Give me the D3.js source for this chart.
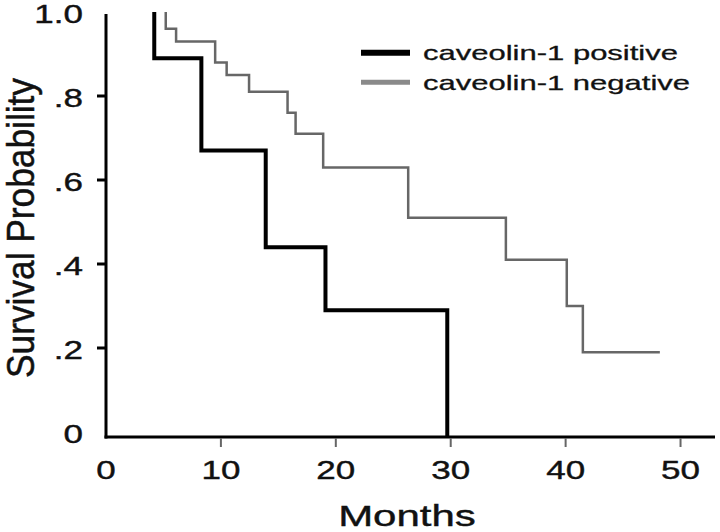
<!DOCTYPE html>
<html>
<head>
<meta charset="utf-8">
<script src="https://cdn.jsdelivr.net/npm/d3@7"></script>
<style>
  html, body { margin: 0; padding: 0; background: #fff; }
  svg { display: block; }
  text { font-family: "Liberation Sans", Arial, Helvetica, sans-serif; fill: #111; }
</style>
</head>
<body>
<svg id="chart" width="720" height="532"></svg>
<script>
// ---- data ----
const seriesNames = ["caveolin-1 positive", "caveolin-1 negative"];
const posTime = [4.2, 4.2, 8.3, 13.9, 19.1, 29.7];
const posSurv = [1.0, 0.89, 0.67, 0.44, 0.29, 0.0];
const negTime = [5.2, 5.2, 6.1, 9.5, 10.5, 12.45, 15.8, 16.5, 18.9, 26.3, 34.8, 40.1, 41.5, 48.2];
const negSurv = [1.0, 0.96, 0.93, 0.88, 0.85, 0.81, 0.76, 0.71, 0.63, 0.51, 0.41, 0.30, 0.19, 0.19];
const xTicks = [0, 10, 20, 30, 40, 50];
const yTicks = [0, 0.2, 0.4, 0.6, 0.8, 1.0];
const yTickLabels = ["0", ".2", ".4", ".6", ".8", "1.0"];
const xTitle = "Months";
const yTitle = "Survival Probability";

// ---- layout ----
const svg = d3.select("#chart");
const x = d3.scaleLinear().domain([0, 53]).range([106, 715]);
const y = d3.scaleLinear().domain([0, 1]).range([432, 12]);
const axisY = 437;          // x-axis line sits a little below y(0)
const SX = 1.4;             // the reference's text is horizontally stretched

// axis lines
svg.append("line").attr("x1", x(0)).attr("x2", x(0)).attr("y1", 14).attr("y2", axisY + 1.5)
  .attr("stroke", "#000").attr("stroke-width", 3);
svg.append("line").attr("x1", x(0) - 1.5).attr("x2", x.range()[1]).attr("y1", axisY).attr("y2", axisY)
  .attr("stroke", "#000").attr("stroke-width", 3);

// y ticks (not at 0 or 1.0)
svg.append("g").selectAll("line").data(yTicks.filter(v => v > 0 && v < 1)).join("line")
  .attr("x1", x(0) - 9).attr("x2", x(0)).attr("y1", d => y(d)).attr("y2", d => y(d))
  .attr("stroke", "#000").attr("stroke-width", 3);

// x ticks (not at 0)
svg.append("g").selectAll("line").data(xTicks.filter(v => v > 0)).join("line")
  .attr("x1", d => x(d)).attr("x2", d => x(d)).attr("y1", axisY + 1).attr("y2", axisY + 10)
  .attr("stroke", "#666").attr("stroke-width", 2);

// y tick labels
svg.append("g").selectAll("text").data(yTicks).join("text")
  .attr("transform", d => `translate(83,${y(d) + 2}) scale(${SX},1)`)
  .attr("text-anchor", "end").attr("dy", "0.36em")
  .attr("font-size", 25).attr("stroke", "#111").attr("stroke-width", 0.4)
  .text((d, i) => yTickLabels[i]);

// x tick labels
svg.append("g").selectAll("text").data(xTicks).join("text")
  .attr("transform", d => `translate(${x(d)},479) scale(${SX},1)`)
  .attr("text-anchor", "middle")
  .attr("font-size", 25).attr("stroke", "#111").attr("stroke-width", 0.4)
  .text(d => d);

// axis titles
svg.append("text")
  .attr("transform", `translate(407,526) scale(${SX},1)`)
  .attr("text-anchor", "middle").attr("font-size", 30).attr("stroke", "#111").attr("stroke-width", 0.4)
  .text(xTitle);
svg.append("text")
  .attr("transform", `translate(34,228) rotate(-90) scale(1,1.3)`)
  .attr("text-anchor", "middle").attr("font-size", 30).attr("stroke", "#111").attr("stroke-width", 0.4)
  .attr("textLength", 300).attr("lengthAdjust", "spacingAndGlyphs")
  .text(yTitle);

// survival curves
function pts(T, S) { return T.map((t, i) => ({ t: t, s: S[i] })); }
const line = d3.line()
  .x(d => x(d.t))
  .y(d => d.s === 0 ? axisY : y(d.s))
  .curve(d3.curveStepAfter);

svg.append("path").datum(pts(negTime, negSurv))
  .attr("d", line).attr("fill", "none")
  .attr("stroke", "#676767").attr("stroke-width", 2.5);
svg.append("path").datum(pts(posTime, posSurv))
  .attr("d", line).attr("fill", "none")
  .attr("stroke", "#000").attr("stroke-width", 4);

// legend
const legend = [
  { name: seriesNames[0], color: "#000", w: 6, y: 52.7, len: 255 },
  { name: seriesNames[1], color: "#8a8a8a", w: 5, y: 82.3, len: 267 }
];
const lg = svg.append("g");
lg.selectAll("line").data(legend).join("line")
  .attr("x1", 361).attr("x2", 410).attr("y1", d => d.y).attr("y2", d => d.y)
  .attr("stroke", d => d.color).attr("stroke-width", d => d.w);
lg.selectAll("text").data(legend).join("text")
  .attr("x", 423).attr("y", d => d.y).attr("dy", "0.35em")
  .attr("font-size", 21).attr("stroke", "#111").attr("stroke-width", 0.3)
  .attr("textLength", d => d.len).attr("lengthAdjust", "spacingAndGlyphs")
  .text(d => d.name);
</script>
</body>
</html>
